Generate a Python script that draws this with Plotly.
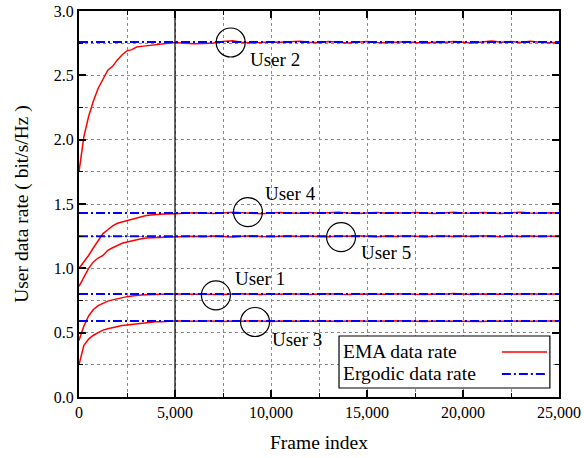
import plotly.graph_objects as go

# Frame indices at which the EMA rate was sampled
frame_index = [0, 250, 500, 750, 1000, 1250, 1500, 1750, 2000, 2250, 2500, 2750, 3000,
               3250, 3500, 3750, 4000, 4250, 4500, 4750, 5000,
               5500, 6000, 6500, 7000, 7500, 8000, 8500, 9000, 9500, 10000,
               10500, 11000, 11500, 12000, 12500, 13000, 13500, 14000, 14500, 15000,
               15500, 16000, 16500, 17000, 17500, 18000, 18500, 19000, 19500, 20000,
               20500, 21000, 21500, 22000, 22500, 23000, 23500, 24000, 24500, 25000]

# EMA data rate per user (bit/s/Hz)
ema_user1 = [0.44, 0.55, 0.63, 0.68, 0.71, 0.73, 0.745, 0.755, 0.765, 0.775, 0.78, 0.785, 0.79,
             0.792, 0.794, 0.796, 0.797, 0.798, 0.799, 0.800, 0.800,
             0.799, 0.802, 0.798, 0.801, 0.797, 0.800, 0.803, 0.799, 0.796, 0.801,
             0.798, 0.802, 0.800, 0.797, 0.801, 0.803, 0.799, 0.797, 0.801, 0.799,
             0.802, 0.798, 0.800, 0.803, 0.799, 0.797, 0.801, 0.799, 0.804, 0.800,
             0.797, 0.801, 0.799, 0.802, 0.798, 0.800, 0.803, 0.799, 0.797, 0.800]
ema_user2 = [1.75, 2.02, 2.18, 2.30, 2.40, 2.47, 2.54, 2.57, 2.62, 2.66, 2.69, 2.70, 2.72,
             2.725, 2.73, 2.735, 2.74, 2.742, 2.745, 2.75, 2.755,
             2.750, 2.745, 2.748, 2.752, 2.762, 2.768, 2.758, 2.752, 2.755, 2.760,
             2.757, 2.762, 2.765, 2.758, 2.754, 2.762, 2.758, 2.752, 2.757, 2.762,
             2.756, 2.753, 2.758, 2.761, 2.755, 2.752, 2.758, 2.755, 2.762, 2.757,
             2.752, 2.760, 2.766, 2.758, 2.762, 2.755, 2.764, 2.758, 2.754, 2.757]
ema_user3 = [0.25, 0.40, 0.45, 0.48, 0.50, 0.52, 0.53, 0.54, 0.55, 0.555, 0.56, 0.565, 0.57,
             0.575, 0.58, 0.58, 0.585, 0.585, 0.588, 0.59, 0.59,
             0.591, 0.588, 0.592, 0.590, 0.587, 0.591, 0.589, 0.593, 0.589, 0.587,
             0.591, 0.590, 0.588, 0.592, 0.589, 0.591, 0.587, 0.590, 0.593, 0.589,
             0.591, 0.588, 0.590, 0.592, 0.589, 0.587, 0.591, 0.590, 0.588, 0.592,
             0.590, 0.587, 0.591, 0.589, 0.592, 0.590, 0.588, 0.591, 0.589, 0.590]
ema_user4 = [1.00, 1.05, 1.10, 1.16, 1.22, 1.27, 1.30, 1.33, 1.35, 1.36, 1.375, 1.385, 1.395,
             1.405, 1.41, 1.415, 1.42, 1.42, 1.422, 1.425, 1.425,
             1.428, 1.432, 1.430, 1.426, 1.431, 1.436, 1.432, 1.428, 1.425, 1.430,
             1.434, 1.431, 1.428, 1.433, 1.429, 1.432, 1.436, 1.430, 1.427, 1.431,
             1.434, 1.429, 1.432, 1.428, 1.433, 1.430, 1.426, 1.431, 1.435, 1.430,
             1.428, 1.433, 1.430, 1.427, 1.432, 1.435, 1.430, 1.428, 1.432, 1.430]
ema_user5 = [0.86, 0.93, 1.00, 1.05, 1.08, 1.10, 1.14, 1.16, 1.18, 1.195, 1.205, 1.215, 1.225,
             1.23, 1.235, 1.237, 1.24, 1.242, 1.243, 1.245, 1.248,
             1.247, 1.250, 1.246, 1.252, 1.248, 1.244, 1.249, 1.253, 1.248, 1.245,
             1.250, 1.252, 1.247, 1.251, 1.248, 1.246, 1.252, 1.249, 1.254, 1.250,
             1.246, 1.251, 1.248, 1.253, 1.249, 1.245, 1.250, 1.252, 1.247, 1.251,
             1.248, 1.253, 1.249, 1.246, 1.251, 1.248, 1.252, 1.247, 1.250, 1.249]

# Ergodic (long-term) data rate per user
ergodic_rates = [0.80, 2.76, 0.59, 1.43, 1.25]
ergodic_span = [0, 25000]

user_names = ["User 1", "User 2", "User 3", "User 4", "User 5"]
ema_series = [ema_user1, ema_user2, ema_user3, ema_user4, ema_user5]

x_ticks = [0, 5000, 10000, 15000, 20000, 25000]
x_tick_text = ["0", "5,000", "10,000", "15,000", "20,000", "25,000"]
y_ticks = [0.0, 0.5, 1.0, 1.5, 2.0, 2.5, 3.0]
y_tick_text = ["0.0", "0.5", "1.0", "1.5", "2.0", "2.5", "3.0"]

FONT = "Liberation Serif"
RED = "#ff0000"
BLUE = "#0000ff"
DASHDOT = "9px,3px,2px,3px"

fig = go.Figure()

for name, ys in zip(user_names, ema_series):
    fig.add_trace(go.Scatter(x=frame_index, y=ys, mode="lines", name=name + " EMA",
                             line=dict(color=RED, width=1.5), showlegend=False))
for name, r in zip(user_names, ergodic_rates):
    fig.add_trace(go.Scatter(x=ergodic_span, y=[r, r], mode="lines", name=name + " ergodic",
                             line=dict(color=BLUE, width=2, dash=DASHDOT), showlegend=False))

shapes = []
# vertical reference line at the end of the convergence phase
shapes.append(dict(type="line", xref="x", yref="paper", x0=5000, x1=5000, y0=0, y1=1,
                   line=dict(color="black", width=1.2)))

# circled markers with user labels: (x, y, label x, label y)
marks = {
    "User 2": (7900, 2.755, 8780, 2.625),
    "User 4": (8800, 1.437, 9560, 1.58),
    "User 5": (13650, 1.243, 14560, 1.125),
    "User 1": (7130, 0.79, 8000, 0.92),
    "User 3": (9170, 0.583, 9930, 0.45),
}
annotations = []
for label, (cx, cy, tx, ty) in marks.items():
    shapes.append(dict(type="circle", xref="x", yref="y", xsizemode="pixel", ysizemode="pixel",
                       xanchor=cx, yanchor=cy, x0=-14.5, x1=14.5, y0=-14.5, y1=14.5,
                       line=dict(color="black", width=1.2)))
    annotations.append(dict(x=tx, y=ty, xref="x", yref="y", text=label, showarrow=False,
                            xanchor="left", yanchor="middle",
                            font=dict(family=FONT, size=19, color="black")))

# legend box
shapes.append(dict(type="rect", xref="paper", yref="paper", x0=0.5417, x1=0.981, y0=0.0233, y1=0.158,
                   fillcolor="white", line=dict(color="black", width=1.2), layer="above"))
shapes.append(dict(type="line", xref="paper", yref="paper", x0=0.881, x1=0.975, y0=0.1166, y1=0.1166,
                   line=dict(color=RED, width=1.5), layer="above"))
shapes.append(dict(type="line", xref="paper", yref="paper", x0=0.881, x1=0.975, y0=0.0596, y1=0.0596,
                   line=dict(color=BLUE, width=2, dash=DASHDOT), layer="above"))
for txt, yy in [("EMA data rate", 0.1166), ("Ergodic data rate", 0.0596)]:
    annotations.append(dict(x=0.545, y=yy, xref="paper", yref="paper", text=txt, showarrow=False,
                            xanchor="left", yanchor="middle",
                            font=dict(family=FONT, size=19.5, color="black")))

axis_common = dict(
    showline=True, linecolor="black", linewidth=2, mirror="ticks",
    ticks="inside", ticklen=7, tickwidth=1.5, tickcolor="black",
    showgrid=True, gridcolor="#8a8a8a", griddash="3px,3px", gridwidth=1,
    zeroline=False, automargin=False,
    tickfont=dict(family=FONT, size=16, color="black"),
)

fig.update_layout(
    width=584, height=458,
    margin=dict(l=79, r=25, t=11, b=61),
    plot_bgcolor="white", paper_bgcolor="white",
    font=dict(family=FONT, color="black"),
    shapes=shapes, annotations=annotations,
    xaxis=dict(range=[0, 25000], tickvals=x_ticks, ticktext=x_tick_text,
               title=dict(text="Frame index", font=dict(family=FONT, size=19.5), standoff=15),
               minor=dict(dtick=2500, tick0=0, ticks="inside", ticklen=4, tickwidth=1.2,
                          tickcolor="black", showgrid=True, gridcolor="#8a8a8a",
                          griddash="3px,3px", gridwidth=1),
               **axis_common),
    yaxis=dict(range=[0, 3.0], tickvals=y_ticks, ticktext=y_tick_text,
               title=dict(text="User data rate ( bit/s/Hz )", font=dict(family=FONT, size=19.5), standoff=20),
               minor=dict(dtick=0.25, tick0=0, ticks="inside", ticklen=4, tickwidth=1.2,
                          tickcolor="black", showgrid=True, gridcolor="#8a8a8a",
                          griddash="3px,3px", gridwidth=1),
               **axis_common),
)

fig.write_html("out.html")
